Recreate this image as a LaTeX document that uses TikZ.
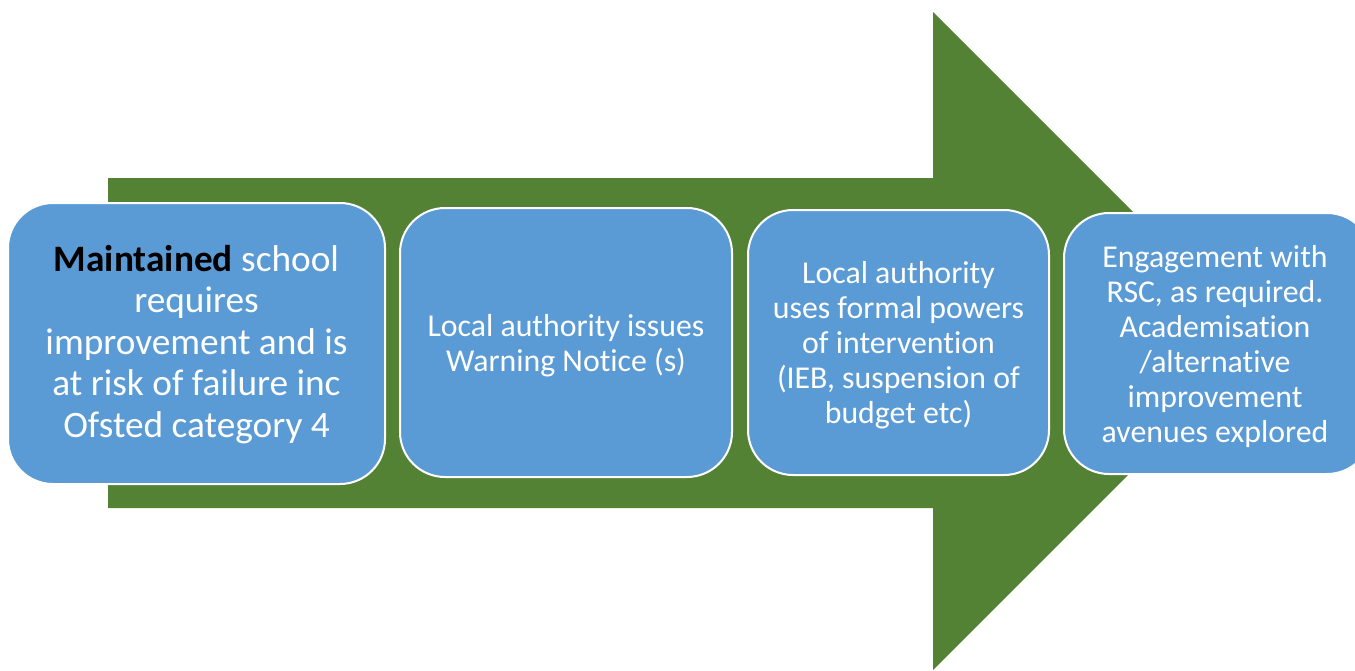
\documentclass[tikz,border=0pt]{standalone}
\usepackage{fontspec}
\setmainfont{Carlito}[Ligatures={NoCommon}]
\definecolor{arrowgreen}{HTML}{548235}
\definecolor{boxblue}{HTML}{5B9BD5}
\begin{document}
\begin{tikzpicture}[x=1pt,y=-1pt,
  stepbox/.style={draw=white, line width=2pt, fill=boxblue, rounded corners=45pt,
    text=white, align=center, inner sep=0pt},
  bigtxt/.style={font=\fontsize{37.3}{41.5}\selectfont},
  smalltxt/.style={font=\fontsize{31.8}{35}\selectfont}]
\useasboundingbox (0,0) rectangle (1355,670);
\clip (0,0) rectangle (1355,670);
% big arrow
\fill[arrowgreen] (108,178) -- (933,178) -- (933,12) -- (1262,341) -- (933,670)
  -- (933,508) -- (108,508) -- cycle;
% boxes
\node[stepbox, minimum width=377pt, minimum height=281pt] (b1) at (196.5,343.5) {};
\node[bigtxt, text=white, align=center, inner sep=0pt] (t1) at (196.5,344.5)
  {\textcolor{black}{\textbf{Maintained}} school\\requires\\improvement and is\\at risk of failure inc\\Ofsted category 4};
\node[stepbox, minimum width=332pt, minimum height=269pt] (b2) at (566,342.5) {};
\node[smalltxt, text=white, align=center, inner sep=0pt] (t2) at (566,345.5)
  {Local authority issues\\Warning Notice (s)};
\node[stepbox, minimum width=301pt, minimum height=265pt] (b3) at (898.5,342.5) {};
\node[smalltxt, text=white, align=center, inner sep=0pt] (t3) at (898.5,345.5)
  {Local authority\\uses formal powers\\of intervention\\(IEB, suspension of\\budget etc)};
\node[stepbox, minimum width=308pt, minimum height=261pt] (b4) at (1218,343.5) {};
\node[smalltxt, text=white, align=center, inner sep=0pt] (t4) at (1215,347)
  {Engagement with\\RSC, as required.\\Academisation\\/alternative\\improvement\\avenues explored};
\end{tikzpicture}
\end{document}
